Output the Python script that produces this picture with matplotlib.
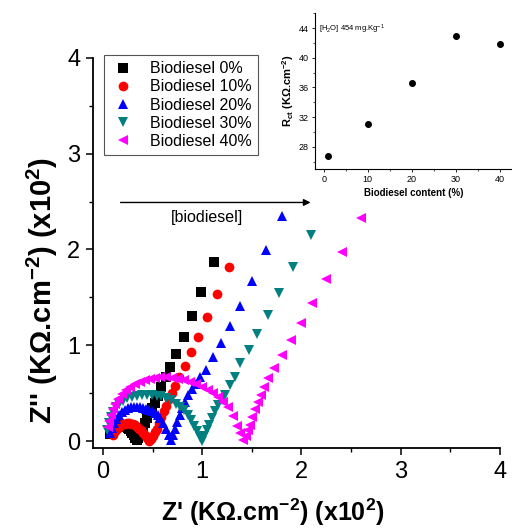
import matplotlib
matplotlib.use("Agg")
import matplotlib.pyplot as plt

plt.rcParams['font.family'] = ['Liberation Sans', 'DejaVu Sans']
plt.rcParams['mathtext.fontset'] = 'custom'
plt.rcParams['mathtext.rm'] = 'Liberation Sans'
plt.rcParams['mathtext.default'] = 'regular'

# Nyquist data, Z' and Z'' in KOhm.cm-2 (x10^2)
labels = ["Biodiesel 0%", "Biodiesel 10%", "Biodiesel 20%", "Biodiesel 30%", "Biodiesel 40%"]

zr_0 = [0.07, 0.085, 0.10, 0.115, 0.13, 0.145, 0.16, 0.175, 0.19, 0.205, 0.22, 0.235, 0.25, 0.265,
        0.28, 0.295, 0.31, 0.325, 0.34,
        0.355, 0.37, 0.385, 0.40, 0.42, 0.44, 0.465, 0.49, 0.52, 0.55, 0.59, 0.64, 0.68, 0.74,
        0.82, 0.90, 0.99, 1.12]
zi_0 = [0.07, 0.095, 0.115, 0.13, 0.145, 0.155, 0.16, 0.165, 0.165, 0.165, 0.16, 0.15, 0.14, 0.125,
        0.105, 0.085, 0.06, 0.035, 0.01,
        0.03, 0.06, 0.10, 0.14, 0.19, 0.24, 0.29, 0.34, 0.40, 0.47, 0.56, 0.665, 0.77, 0.91,
        1.09, 1.30, 1.56, 1.87]

zr_10 = [0.10, 0.12, 0.14, 0.16, 0.18, 0.20, 0.22, 0.24, 0.26, 0.28, 0.30, 0.32, 0.34, 0.36,
         0.38, 0.40, 0.42, 0.44, 0.46,
         0.48, 0.50, 0.52, 0.54, 0.565, 0.59, 0.615, 0.64, 0.67, 0.70, 0.73, 0.77, 0.83, 0.89,
         0.96, 1.045, 1.146, 1.273]
zi_10 = [0.06, 0.10, 0.13, 0.15, 0.165, 0.175, 0.18, 0.185, 0.185, 0.18, 0.175, 0.165, 0.15, 0.13,
         0.11, 0.085, 0.06, 0.03, 0.005,
         0.02, 0.05, 0.09, 0.13, 0.19, 0.25, 0.31, 0.37, 0.44, 0.50, 0.57, 0.67, 0.78, 0.93,
         1.086, 1.29, 1.535, 1.82]

zr_20 = [0.07, 0.09, 0.11, 0.13, 0.16, 0.19, 0.22, 0.25, 0.28, 0.31, 0.34, 0.37, 0.40, 0.43,
         0.46, 0.49, 0.52, 0.55, 0.58, 0.61, 0.64, 0.67, 0.69,
         0.71, 0.73, 0.75, 0.775, 0.80, 0.83, 0.86, 0.895, 0.935, 0.977, 1.038, 1.111, 1.186,
         1.28, 1.38, 1.498, 1.642, 1.80]
zi_20 = [0.08, 0.14, 0.19, 0.23, 0.27, 0.30, 0.325, 0.345, 0.355, 0.36, 0.36, 0.355, 0.345, 0.335,
         0.325, 0.31, 0.29, 0.27, 0.24, 0.19, 0.13, 0.06, 0.01,
         0.06, 0.13, 0.20, 0.27, 0.34, 0.41, 0.48, 0.54, 0.60, 0.665, 0.742, 0.874, 1.027,
         1.20, 1.41, 1.674, 1.99, 2.35]

zr_30 = [0.04, 0.06, 0.08, 0.10, 0.13, 0.16, 0.20, 0.24, 0.29, 0.34, 0.39, 0.44, 0.49, 0.54,
         0.59, 0.64, 0.69, 0.74, 0.78, 0.82, 0.86, 0.89, 0.92, 0.95, 0.98, 1.00,
         1.02, 1.05, 1.07, 1.095, 1.13, 1.16, 1.195, 1.23, 1.28, 1.33, 1.38, 1.47, 1.555,
         1.659, 1.777, 1.917, 2.096]
zi_30 = [0.12, 0.19, 0.25, 0.30, 0.35, 0.39, 0.42, 0.445, 0.46, 0.475, 0.48, 0.48, 0.48, 0.475,
         0.465, 0.45, 0.425, 0.39, 0.36, 0.32, 0.27, 0.22, 0.16, 0.10, 0.04, 0.0,
         0.05, 0.11, 0.17, 0.24, 0.31, 0.38, 0.43, 0.48, 0.585, 0.67, 0.81, 0.95, 1.117,
         1.316, 1.54, 1.82, 2.15]

zr_40 = [0.05, 0.06, 0.08, 0.10, 0.12, 0.15, 0.19, 0.23, 0.27, 0.32, 0.37, 0.42, 0.47, 0.52,
         0.58, 0.64, 0.70, 0.76, 0.82, 0.88, 0.94, 1.00, 1.06, 1.11, 1.16, 1.21, 1.26, 1.31,
         1.35, 1.38, 1.41,
         1.44, 1.46, 1.48, 1.50, 1.53, 1.56, 1.59, 1.625, 1.666, 1.72, 1.80, 1.89, 1.995,
         2.109, 2.247, 2.405, 2.60]
zi_40 = [0.15, 0.21, 0.27, 0.33, 0.39, 0.44, 0.49, 0.53, 0.56, 0.59, 0.615, 0.635, 0.65, 0.66,
         0.665, 0.665, 0.66, 0.65, 0.635, 0.615, 0.59, 0.56, 0.53, 0.50, 0.46, 0.41, 0.35, 0.26,
         0.16, 0.08, 0.01,
         0.05, 0.11, 0.17, 0.25, 0.33, 0.41, 0.48, 0.56, 0.655, 0.76, 0.90, 1.05, 1.23,
         1.44, 1.69, 1.977, 2.325]

# charge transfer resistance vs biodiesel content
content = [1, 10, 20, 30, 40]
rct = [26.7, 31.1, 36.6, 42.9, 41.9]

series = [(zr_0, zi_0), (zr_10, zi_10), (zr_20, zi_20), (zr_30, zi_30), (zr_40, zi_40)]
markers = ['s', 'o', '^', 'v', '<']
colors = ['black', 'red', 'blue', '#008080', '#FF00FF']
sizes = [6.5, 7, 7.5, 7.5, 7.5]

fig = plt.figure(figsize=(5.12, 5.28), dpi=100)
ax = fig.add_axes([0.1816, 0.1515, 0.795, 0.739])

for (x, y), m, c, s, lab in zip(series, markers, colors, sizes, labels):
    ax.plot(x, y, linestyle='none', marker=m, color=c, markersize=s, markeredgewidth=0, label=lab)

ax.set_xlim(-0.1, 4.0)
ax.set_ylim(-0.073, 4.0)
ax.set_xticks([0, 1, 2, 3, 4])
ax.set_yticks([0, 1, 2, 3, 4])
ax.set_xticks([0.5, 1.5, 2.5, 3.5], minor=True)
ax.set_yticks([0.5, 1.5, 2.5, 3.5], minor=True)
ax.spines['top'].set_visible(False)
ax.spines['right'].set_visible(False)
for sp in ['left', 'bottom']:
    ax.spines[sp].set_linewidth(1.3)
ax.tick_params(which='major', direction='out', length=5, width=1.1, labelsize=17, pad=4)
ax.tick_params(which='minor', direction='out', length=3, width=1.0)

ax.set_xlabel("Z' (K\u03a9.cm$^{-2}$) (x10$^{2}$)", fontsize=18, fontweight='bold')
ax.xaxis.set_label_coords(0.442, -0.125)
ax.set_ylabel("Z'' (K\u03a9.cm$^{-2}$) (x10$^{2}$)", fontsize=21, fontweight='bold')
ax.yaxis.set_label_coords(-0.08, 0.403)

ax.annotate("", xy=(2.12, 2.49), xytext=(0.15, 2.49),
            arrowprops=dict(arrowstyle='-|>', color='black', lw=1.0, mutation_scale=10))
ax.text(1.05, 2.33, "[biodiesel]", fontsize=11.5, ha='center', va='center')

leg = ax.legend(loc='upper left', bbox_to_anchor=(0.203, 0.896), bbox_transform=fig.transFigure,
                borderaxespad=0, fancybox=False, fontsize=11.5, handletextpad=0.9,
                labelspacing=0.2, borderpad=0.4, handlelength=1.6, framealpha=1)
leg.get_frame().set_edgecolor('#555555')
leg.get_frame().set_linewidth(0.8)

# inset: Rct vs biodiesel content
ins = fig.add_axes([0.615, 0.680, 0.387, 0.295])
ins.plot(content, rct, linestyle='none', marker='o', color='black', markersize=4)
ins.set_xlim(-2, 43)
ins.set_ylim(25, 46)
ins.set_xticks([0, 10, 20, 30, 40])
ins.set_xticks([5, 15, 25, 35], minor=True)
ins.set_yticks([28, 32, 36, 40, 44])
ins.set_yticks([26, 30, 34, 38, 42, 46], minor=True)
ins.spines['top'].set_visible(False)
ins.spines['right'].set_visible(False)
ins.tick_params(which='major', direction='out', length=2.5, width=0.6, labelsize=6.5, pad=2)
ins.tick_params(which='minor', direction='out', length=1.5, width=0.5)
ins.set_xlabel("Biodiesel content (%)", fontsize=7, fontweight='bold', labelpad=3)
ins.set_ylabel("R$_{ct}$ (K\u03a9.cm$^{-2}$)", fontsize=8, fontweight='bold', labelpad=2)
ins.text(0.02, 0.88, "[H$_2$O] 454 mg.Kg$^{-1}$", transform=ins.transAxes, fontsize=5.5, ha='left')
ins.patch.set_alpha(0)

fig.savefig("out.png", dpi=100)
